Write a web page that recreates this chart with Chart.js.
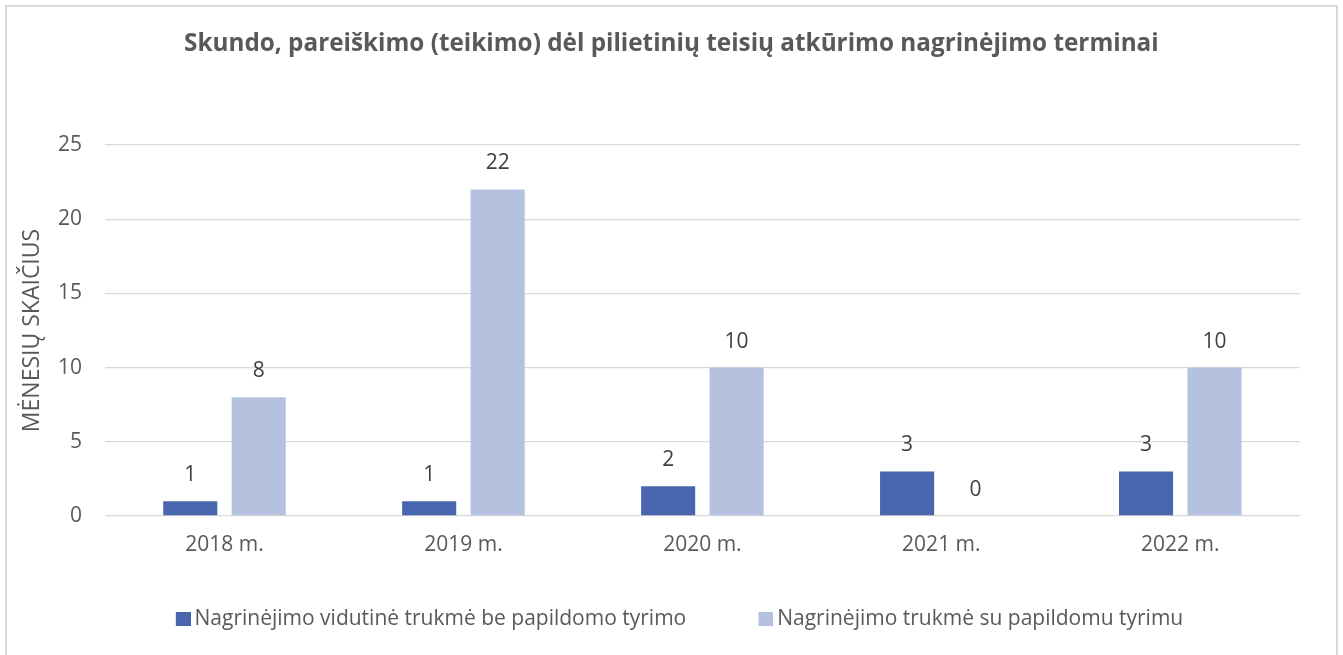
<!DOCTYPE html>
<html>
<head>
<meta charset="utf-8">
<script src="https://cdn.jsdelivr.net/npm/chart.js@4"></script>
<style>
html,body{margin:0;padding:0;background:#fff;}
#wrap{width:1343px;height:655px;}
</style>
</head>
<body>
<div id="wrap"><canvas id="c" width="1343" height="655"></canvas></div>
<script>
const categories = ['2018 m.', '2019 m.', '2020 m.', '2021 m.', '2022 m.'];
const seriesNames = ['Nagrinėjimo vidutinė trukmė be papildomo tyrimo', 'Nagrinėjimo trukmė su papildomu tyrimu'];
const avgWithout = [1, 1, 2, 3, 3];
const withExtra = [8, 22, 10, 0, 10];
const yTicks = [0, 5, 10, 15, 20, 25];
const titleText = 'Skundo, pareiškimo (teikimo) dėl pilietinių teisių atkūrimo nagrinėjimo terminai';
const yTitle = 'MĖNESIŲ SKAIČIUS';
const seriesColors = ['#4766ae', '#b4c2e0'];

const FONT = "'Open Sans', sans-serif";
const TXT = '#595959';

function swatch(color) {
  const c = document.createElement('canvas');
  c.width = 38; c.height = 14;
  const g = c.getContext('2d');
  g.fillStyle = color;
  g.fillRect(23, 0, 15, 14);
  return c;
}
const swatches = seriesColors.map(swatch);

const frame = {
  id: 'frame',
  beforeDraw(chart) {
    const ctx = chart.ctx;
    ctx.save();
    ctx.fillStyle = '#ffffff';
    ctx.fillRect(0, 0, chart.width, chart.height);
    ctx.strokeStyle = '#d9d9d9';
    ctx.lineWidth = 2;
    ctx.strokeRect(6, 6, chart.width - 12, chart.height + 10);
    ctx.restore();
  }
};

const valueLabels = {
  id: 'valueLabels',
  afterDatasetsDraw(chart) {
    const ctx = chart.ctx;
    ctx.save();
    ctx.font = '21px ' + FONT;
    ctx.fillStyle = '#404040';
    ctx.textAlign = 'center';
    ctx.textBaseline = 'middle';
    chart.data.datasets.forEach((ds, i) => {
      const meta = chart.getDatasetMeta(i);
      meta.data.forEach((el, j) => {
        ctx.fillText(String(ds.data[j]), el.x, el.y - 26);
      });
    });
    ctx.restore();
  }
};

new Chart(document.getElementById('c'), {
  type: 'bar',
  data: {
    labels: categories,
    datasets: [
      { label: seriesNames[0], data: avgWithout, backgroundColor: seriesColors[0], borderWidth: 0,
        categoryPercentage: 0.573, barPercentage: 0.79 },
      { label: seriesNames[1], data: withExtra, backgroundColor: seriesColors[1], borderWidth: 0,
        categoryPercentage: 0.573, barPercentage: 0.79 }
    ]
  },
  options: {
    responsive: false,
    animation: false,
    layout: { padding: { left: 43, right: 43.25, top: 0, bottom: 15.5 } },
    plugins: {
      title: {
        display: true, text: titleText, color: TXT,
        font: { family: FONT, size: 24.3, weight: 'bold' },
        padding: { top: 29.5, bottom: 86.3 }
      },
      legend: {
        position: 'bottom',
        labels: {
          color: TXT, usePointStyle: true, pointStyleWidth: 24.5, boxHeight: 14, padding: 56,
          font: { family: FONT, size: 21 },
          generateLabels(chart) {
            const items = Chart.defaults.plugins.legend.labels.generateLabels(chart);
            items.forEach((it, i) => { it.pointStyle = swatches[i]; });
            return items;
          }
        }
      },
      tooltip: { enabled: false }
    },
    scales: {
      x: {
        grid: { display: false, drawTicks: false },
        border: { display: false },
        ticks: { color: TXT, font: { family: FONT, size: 21 }, padding: 16 },
        afterFit(scale) { scale.height = 36.5; }
      },
      y: {
        min: 0, max: 25,
        afterBuildTicks(scale) { scale.ticks = yTicks.map(v => ({ value: v })); },
        grid: { color: '#d9d9d9', lineWidth: 1.3, drawTicks: false },
        border: { display: false },
        ticks: { color: TXT, font: { family: FONT, size: 21 }, padding: 23 },
        title: { display: true, text: yTitle, color: TXT, font: { family: FONT, size: 23 }, padding: { top: -24.3, bottom: 0 } },
        afterFit(scale) { scale.width = 62; }
      }
    }
  },
  plugins: [frame, valueLabels]
});
</script>
</body>
</html>
